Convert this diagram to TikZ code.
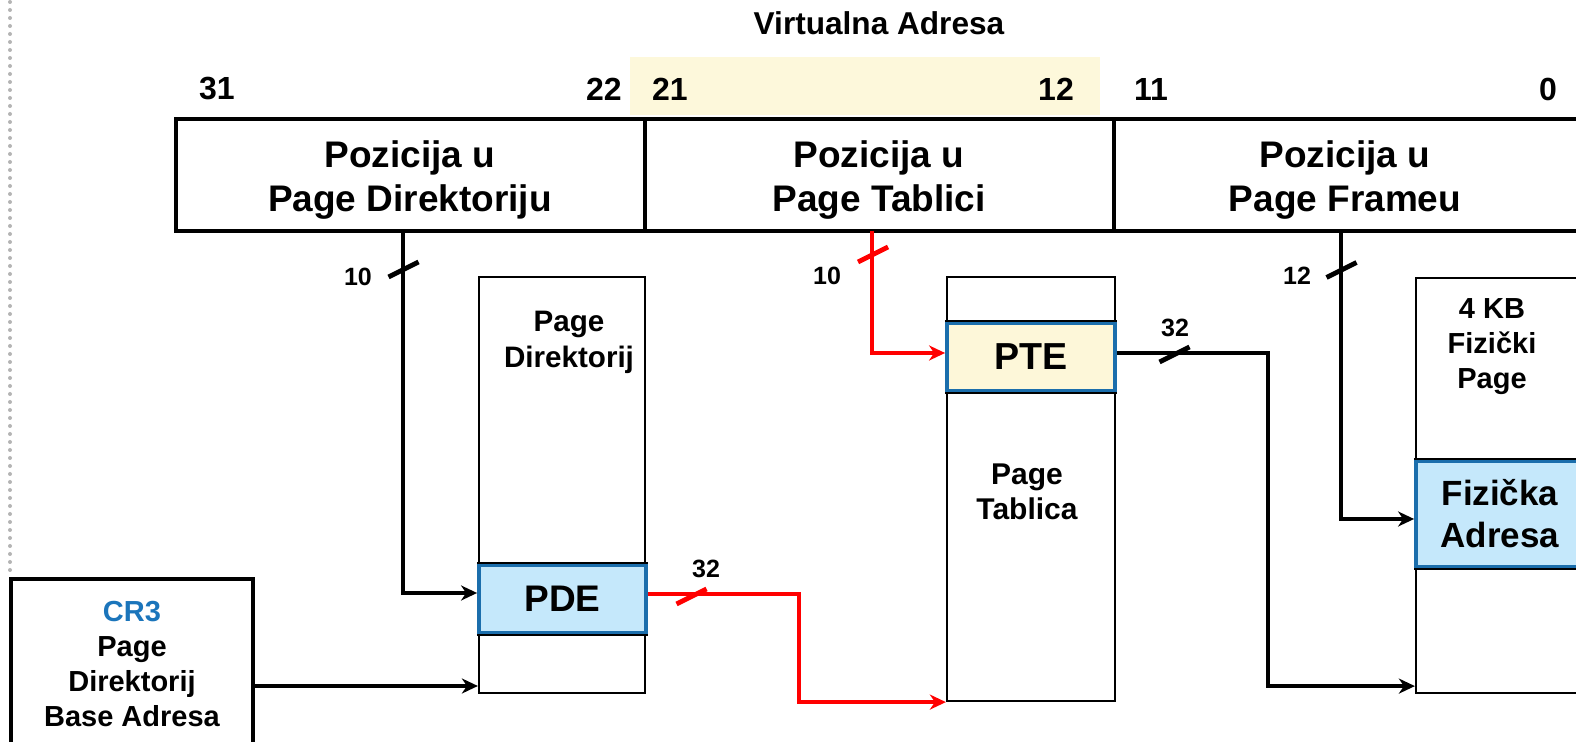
\documentclass[tikz,border=0pt]{standalone}
\usepackage{fontspec}
\setmainfont{Liberation Sans}
\usetikzlibrary{arrows.meta,calc}
\definecolor{entblue}{HTML}{C5E8FB}
\definecolor{entline}{HTML}{1B6EAC}
\definecolor{pteyel}{HTML}{FDF7D9}
\definecolor{hiyel}{HTML}{FDF8DB}
\definecolor{crblue}{HTML}{1B75BB}
\definecolor{dotgrey}{HTML}{B4B4B4}
\definecolor{linered}{HTML}{FF0000}
\begin{document}
\begin{tikzpicture}[x=0.5pt,y=-0.5pt,
  txt/.style={inner sep=0pt,align=center,font=\bfseries},
  bigtxt/.style={txt,font=\fontsize{18.5pt}{22pt}\selectfont\bfseries},
  bittxt/.style={txt,font=\fontsize{16pt}{19pt}\selectfont\bfseries},
  midtxt/.style={txt,font=\fontsize{14.5pt}{17.5pt}\selectfont\bfseries},
  smalltxt/.style={txt,font=\fontsize{12.5pt}{15pt}\selectfont\bfseries},
  field/.style={draw,line width=1.9pt,minimum width=234.5pt,minimum height=56pt,inner sep=0pt},
  membox/.style={draw,line width=1.1pt,minimum width=84pt,inner sep=0pt},
  entry/.style={draw=entline,line width=1.9pt,minimum width=84pt,inner sep=0pt,bigtxt},
  sep/.style={line width=1.3pt,black},
  conn/.style={line width=2pt,-{Stealth[length=8pt,width=7.5pt,inset=2.5pt]}},
  redconn/.style={conn,linered},
  slash/.style={line width=2.4pt},
]
\useasboundingbox (0,0) rectangle (1576,742);
\clip (0,0) rectangle (1576,742);
\fill[white] (0,0) rectangle (1576,742);

% dotted slide border
\draw[dotgrey,line width=2pt,line cap=round,dash pattern=on 0pt off 4pt] (10,2) -- (10,577);

% highlight behind bits 21..12
\fill[hiyel] (630,57) rectangle (1100,115);

\node[txt,font=\fontsize{15.8pt}{18pt}\selectfont\bfseries] (virt) at (879,23) {Virtualna Adresa};
\node[bittxt] (b31) at (217,89) {31};
\node[bittxt] (b22) at (604,89) {22};
\node[bittxt] (b21) at (670,89) {21};
\node[bittxt] (b12) at (1056,89) {12};
\node[bittxt] (b11) at (1151,89) {11};
\node[bittxt] (b0) at (1548,89) {0};

% address fields
\node[field] (addr1) at (410.5,175) {};
\node[field] (addr2) at (879.5,175) {};
\node[field] (addr3) at (1348.5,175) {};
\node[bigtxt] (lab1) at (410,180) {Pozicija u\\Page Direktoriju};
\node[bigtxt] (lab2) at (879,180) {Pozicija u\\Page Tablici};
\node[bigtxt] (lab3) at (1345,180) {Pozicija u\\Page Frameu};

% memory structures
\node[membox,minimum width=83pt,minimum height=208pt] (pd) at (562,485) {};
\node[membox,minimum height=212pt] (pt) at (1031,489) {};
\node[membox,minimum height=207.5pt] (phys) at (1500,485.5) {};

\node[txt,font=\fontsize{14.8pt}{18pt}\selectfont\bfseries] (pdlab) at (569,342) {Page\\Direktorij};
\node[txt,font=\fontsize{15pt}{17.5pt}\selectfont\bfseries] (ptlab) at (1027,492) {Page\\Tablica};
\node[midtxt] (phlab) at (1492,347) {4 KB\\Fizički\\Page};

% entries
\node[entry,fill=entblue,minimum width=83.5pt,minimum height=34pt] (pde) at (562.5,599) {PDE};
\draw[sep] (pde.north west) -- (pde.north east) (pde.south west) -- (pde.south east);
\node[entry,fill=pteyel,minimum height=34pt,font=\fontsize{18.8pt}{22pt}\selectfont\bfseries] (pte) at (1031,357) {PTE};
\draw[sep] (pte.north west) -- (pte.north east) (pte.south west) -- (pte.south east);
\node[entry,fill=entblue,minimum height=53pt,font=\fontsize{17.5pt}{21pt}\selectfont\bfseries] (phe) at (1500,514) {Fizička\\Adresa};
\draw[sep] (phe.north west) -- (phe.north east) (phe.south west) -- (phe.south east);

% CR3
\node[draw,line width=1.9pt,minimum width=121pt,minimum height=85.5pt,midtxt] (cr3) at (132,664.5)
  {\textcolor{crblue}{CR3}\\Page\\Direktorij\\Base Adresa};

% connectors
\coordinate (t1) at (403,231);
\coordinate (t2) at (872,231);
\coordinate (t3) at (1341,231);
\draw[conn] (t1) |- ([yshift=3pt]pde.west);
\draw[redconn] (t2) |- ([yshift=2pt]pte.west);
\draw[conn] (t3) |- ([yshift=-2.5pt]phe.west);
\draw[conn] ([yshift=-10.75pt]cr3.east) -- ([yshift=-10.75pt]cr3.east -| pd.west);
\draw[redconn] ([yshift=2.5pt]pde.east) -- ++(151,0) |- (pt.south west);
\draw[conn] ([yshift=2pt]pte.east) -- ++(151,0) |- ([yshift=4pt]phys.south west);

% bus width slashes
\draw[slash] (403.5,269.5) ++(-15,7.5) -- ++(30,-15);
\draw[slash,linered] (873,254.5) ++(-15,7.5) -- ++(30,-15);
\draw[slash] (1341.5,270) ++(-15,7.5) -- ++(30,-15);
\draw[slash,linered] (691.5,596.5) ++(-15,7.5) -- ++(30,-15);
\draw[slash] (1174.5,354.5) ++(-15,7.5) -- ++(30,-15);

\node[smalltxt] (w1) at (358,277) {10};
\node[smalltxt] (w2) at (827,276) {10};
\node[smalltxt] (w3) at (1297,276) {12};
\node[smalltxt] (w4) at (706,569) {32};
\node[smalltxt] (w5) at (1175,328) {32};
\end{tikzpicture}
\end{document}
